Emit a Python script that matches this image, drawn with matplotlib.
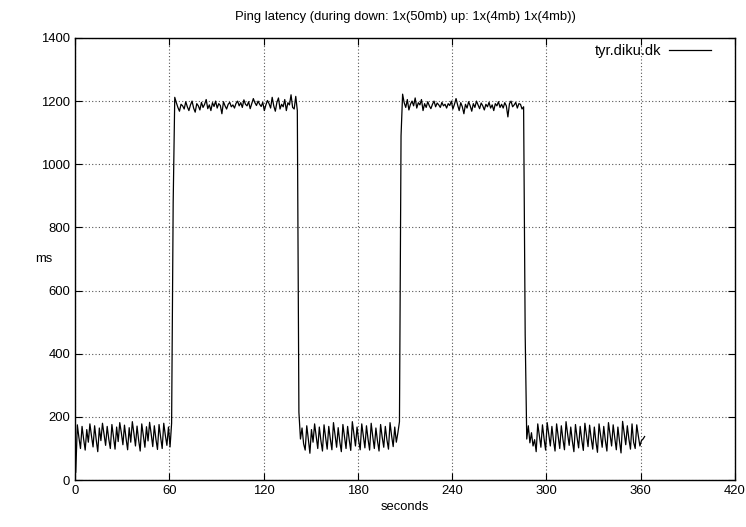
import matplotlib
matplotlib.use("Agg")
import matplotlib.pyplot as plt
import numpy as np

# ping latency in ms, one sample per second
down1 = [25, 175, 135, 100, 170, 130, 95, 160, 120, 178, 140,
         105, 172, 128, 90, 165, 125, 180, 145, 110, 170,
         130, 100, 176, 138, 98, 168, 122, 182, 150, 112,
         174, 132, 96, 166, 120, 185, 148, 108, 171, 127,
         92, 178, 140, 104, 169, 124, 183, 146, 106, 172,
         130, 97, 176, 136, 100, 180, 142, 110, 168, 105,
         180]
up1 = [880,
       1212, 1195, 1180, 1168, 1190, 1185, 1175, 1198, 1182, 1170,
       1188, 1200, 1178, 1165, 1192, 1185, 1172, 1196, 1180, 1190,
       1205, 1176, 1188, 1170, 1195, 1183, 1200, 1178, 1192, 1186,
       1160, 1198, 1185, 1175, 1190, 1196, 1182, 1188, 1178, 1193,
       1200, 1185, 1195, 1180, 1204, 1190, 1185, 1198, 1176, 1192,
       1208, 1195, 1186, 1200, 1190, 1183, 1196, 1170, 1188, 1202,
       1192, 1178, 1212, 1185, 1168, 1196, 1210, 1175, 1190, 1182,
       1205, 1170, 1195, 1188, 1220, 1180, 1175, 1215, 1170]
down2 = [215, 130, 165, 115, 95, 172, 130, 85, 160, 120,
         178, 140, 100, 168, 125, 92, 175, 135, 98, 170,
         130, 96, 182, 142, 104, 166, 122, 90, 176, 138,
         100, 170, 128, 94, 185, 146, 108, 168, 126, 96,
         178, 140, 102, 172, 130, 95, 180, 138, 100, 165,
         124, 92, 176, 136, 104, 170, 128, 98, 182, 140,
         106, 168, 120, 150, 185]
up2 = [1090, 1222, 1195, 1180, 1205, 1172, 1190, 1200, 1185, 1210,
       1178, 1195, 1188, 1205, 1170, 1192, 1180, 1198, 1185, 1176,
       1190, 1200, 1182, 1194, 1188, 1180, 1196, 1185, 1190, 1178,
       1192, 1186, 1200, 1175, 1190, 1208, 1188, 1170, 1195, 1182,
       1160, 1190, 1178, 1198, 1185, 1168, 1192, 1180, 1200, 1188,
       1176, 1194, 1185, 1172, 1190, 1182, 1196, 1178, 1188, 1170,
       1192, 1185, 1198, 1180, 1190, 1178, 1195, 1185, 1150, 1192,
       1200, 1182, 1188, 1196, 1178, 1192, 1190, 1175, 1182]
down3 = [460, 130, 172, 118, 150, 108, 128, 90, 178, 140,
         104, 175, 132, 95, 182, 145, 108, 170, 126, 92,
         178, 138, 100, 172, 130, 96, 185, 146, 110, 168,
         124, 90, 176, 136, 102, 170, 128, 94, 180, 142,
         106, 174, 132, 98, 168, 122, 88, 178, 140, 104,
         170, 126, 92, 182, 144, 108, 175, 134, 96, 168,
         124, 86, 186, 150, 112, 172, 130, 98, 178, 120,
         100, 175, 140, 108, 125, 130, 138]

latency = down1 + up1 + down2 + up2 + down3
seconds = np.arange(len(latency)) + 0.5

plt.rcParams['font.family'] = ['Liberation Sans', 'DejaVu Sans']
plt.rcParams['font.size'] = 9.4

fig = plt.figure(figsize=(7.46, 5.27), dpi=100)
ax = fig.add_axes([0.1005, 0.089, 0.8847, 0.839])
ax.plot(seconds, latency, color='black', linewidth=0.9, label='tyr.diku.dk', zorder=3)

ax.set_xlim(0, 420)
ax.set_ylim(0, 1400)
ax.set_xticks(range(0, 421, 60))
ax.set_yticks(range(0, 1401, 200))
ax.grid(True, linestyle=(0, (1, 2)), color='#555555', linewidth=0.8)
ax.tick_params(direction='in', top=True, right=True, length=5, width=0.8)
for s in ax.spines.values():
    s.set_linewidth(1.0)

ax.set_title("Ping latency (during down: 1x(50mb) up: 1x(4mb) 1x(4mb))",
             fontsize=9.4, pad=13)
ax.set_xlabel("seconds", labelpad=3)
ax.set_ylabel("ms", rotation=0, va='center', ha='center')
ax.yaxis.set_label_coords(-0.047, 0.5)

ax.legend(loc='upper right', frameon=False, markerfirst=False,
          handlelength=2.9, handletextpad=0.5, fontsize=10.5,
          borderaxespad=0.5, bbox_to_anchor=(0.984, 1.016))

plt.savefig("out.png", dpi=100)
plt.close()
